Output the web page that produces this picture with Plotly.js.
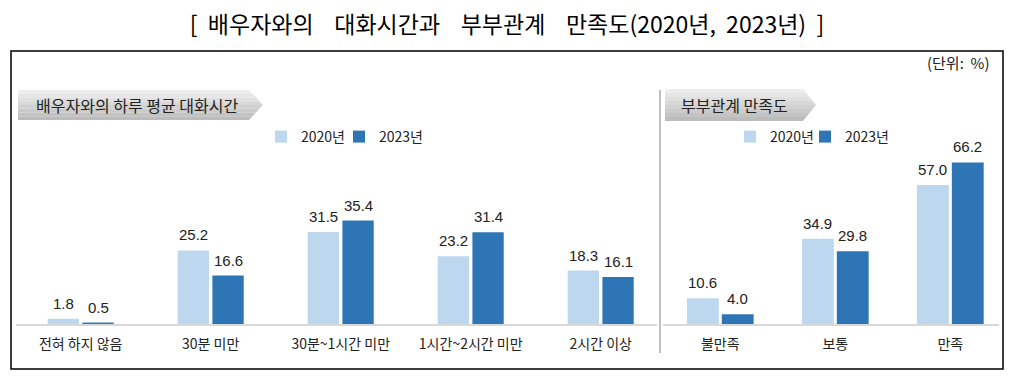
<!DOCTYPE html>
<html>
<head>
<meta charset="utf-8">
<script src="https://cdn.plot.ly/plotly-3.0.1.min.js"></script>
<style>
html,body{margin:0;padding:0;background:#fff;}
#chart{width:1014px;height:380px;}
</style>
</head>
<body>
<div id="chart"></div>
<script>
// ---- data ----
const talkCategories = ["전혀 하지 않음", "30분 미만", "30분~1시간 미만", "1시간~2시간 미만", "2시간 이상"];
const talk2020 = [1.8, 25.2, 31.5, 23.2, 18.3];
const talk2023 = [0.5, 16.6, 35.4, 31.4, 16.1];
const satCategories = ["불만족", "보통", "만족"];
const sat2020 = [10.6, 34.9, 57.0];
const sat2023 = [4.0, 29.8, 66.2];
const seriesNames = ["2020년", "2023년"];
const chartTitle = "[  배우자와의    대화시간과    부부관계    만족도(2020년,  2023년)  ]";
const leftPanelTitle = "배우자와의 하루 평균 대화시간";
const rightPanelTitle = "부부관계 만족도";
const unitText = "(단위:  %)";

// ---- layout helpers ----
const W = 1014, H = 380;
const px = x => x / W;
const py = y => 1 - y / H;
const KFONT = '"Noto Sans CJK KR", "Noto Sans", sans-serif';
const NFONT = '"Liberation Sans", Arial, sans-serif';
const C20 = '#bdd7ee', C23 = '#2e75b6';

const LW = 0.241, LOFF = [-0.254, 0.013];
const RW = 0.277, ROFF = [-0.29, 0.013];

const traces = [
  {type:'bar', name:seriesNames[0], x:talkCategories, y:talk2020, xaxis:'x', yaxis:'y',
   width:LW, offset:LOFF[0], marker:{color:C20}, legend:'legend', hoverinfo:'none'},
  {type:'bar', name:seriesNames[1], x:talkCategories, y:talk2023, xaxis:'x', yaxis:'y',
   width:LW, offset:LOFF[1], marker:{color:C23}, legend:'legend3', hoverinfo:'none'},
  {type:'bar', name:seriesNames[0], x:satCategories, y:sat2020, xaxis:'x2', yaxis:'y2',
   width:RW, offset:ROFF[0], marker:{color:C20}, legend:'legend2', hoverinfo:'none'},
  {type:'bar', name:seriesNames[1], x:satCategories, y:sat2023, xaxis:'x2', yaxis:'y2',
   width:RW, offset:ROFF[1], marker:{color:C23}, legend:'legend4', hoverinfo:'none'}
];

const annotations = [];
function addLabels(cats, vals, xref, yref, center) {
  cats.forEach((c, i) => {
    annotations.push({x: i + center, y: vals[i], xref, yref, text: vals[i].toFixed(1),
      showarrow:false, yanchor:'bottom', yshift:5,
      font:{family:NFONT, size:15, color:'#222'}});
  });
}
addLabels(talkCategories, talk2020, 'x', 'y', LOFF[0] + LW/2);
addLabels(talkCategories, talk2023, 'x', 'y', LOFF[1] + LW/2);
addLabels(satCategories, sat2020, 'x2', 'y2', ROFF[0] + RW/2);
addLabels(satCategories, sat2023, 'x2', 'y2', ROFF[1] + RW/2);

annotations.push({xref:'paper', yref:'paper', x:px(34), y:py(105), xanchor:'left', yanchor:'middle',
  text:leftPanelTitle, showarrow:false, font:{family:KFONT, size:16, color:'#222'}});
annotations.push({xref:'paper', yref:'paper', x:px(679), y:py(105), xanchor:'left', yanchor:'middle',
  text:rightPanelTitle, showarrow:false, font:{family:KFONT, size:16, color:'#222'}});
annotations.push({xref:'paper', yref:'paper', x:px(991), y:py(62), xanchor:'right', yanchor:'middle',
  text:unitText, showarrow:false, font:{family:KFONT, size:15, color:'#222'}});

// arrow label boxes with stepped gradient
const shapes = [];
function arrowBox(x0, x1, xt, y0, y1) {
  const ym = (y0 + y1) / 2, half = (y1 - y0) / 2;
  const xr = y => x1 + (xt - x1) * (1 - Math.abs(y - ym) / half);
  const cols = ['#ededed','#e6e6e6','#dfdfdf','#d8d8d8','#d1d1d1','#cacaca','#c3c3c3','#bcbcbc'];
  const n = cols.length;
  for (let k = 0; k < n; k++) {
    const a = y0 + (y1 - y0) * k / n, b = y0 + (y1 - y0) * (k + 1) / n;
    const pts = [[x0, a], [xr(a), a]];
    if (a < ym && b > ym) pts.push([xt, ym]);
    pts.push([xr(b), b], [x0, b]);
    const d = 'M' + pts.map(p => px(p[0]) + ',' + py(p[1])).join(' L') + ' Z';
    shapes.push({type:'path', xref:'paper', yref:'paper', path:d, fillcolor:cols[k],
      line:{width:0}, layer:'below'});
  }
}
arrowBox(18, 249, 263, 90, 120);
arrowBox(665, 803, 816, 89, 121);

// outer frame
shapes.push({type:'rect', xref:'paper', yref:'paper', x0:px(11), x1:px(1003), y0:py(51), y1:py(369),
  line:{color:'#000', width:1.5}, fillcolor:'rgba(0,0,0,0)'});
// separator
shapes.push({type:'line', xref:'paper', yref:'paper', x0:px(660), x1:px(660), y0:py(90), y1:py(353),
  line:{color:'#bfbfbf', width:2}});

const yDom = [py(324), py(90)];
const legendBase = {orientation:'h', yanchor:'middle', y:py(137), xanchor:'left',
  font:{family:KFONT, size:14, color:'#222'}, bgcolor:'rgba(0,0,0,0)', itemwidth:30,
  traceorder:'normal'};
const layout = {
  width: W, height: H,
  margin: {l:0, r:0, t:0, b:0},
  paper_bgcolor:'#fff', plot_bgcolor:'rgba(0,0,0,0)',
  showlegend:true,
  title: {text: chartTitle, x:0.5, xanchor:'center', y: py(25), yanchor:'middle', yref:'container',
    font:{family:KFONT, size:23, color:'#000'}},
  xaxis: {domain:[px(16), px(657)], type:'category', range:[-0.4977, 4.433], anchor:'y',
    showline:true, linecolor:'#d9d9d9', linewidth:1.5, ticks:'', showgrid:false, zeroline:false,
    ticklabelstandoff:7, tickfont:{family:KFONT, size:14, color:'#222'}, fixedrange:true},
  yaxis: {domain:yDom, range:[0, 80.1], visible:false, fixedrange:true, anchor:'x'},
  xaxis2: {domain:[px(663), px(999)], type:'category', range:[-0.498, 2.423], anchor:'y2',
    showline:true, linecolor:'#d9d9d9', linewidth:1.5, ticks:'', showgrid:false, zeroline:false,
    ticklabelstandoff:7, tickfont:{family:KFONT, size:14, color:'#222'}, fixedrange:true},
  yaxis2: {domain:yDom, range:[0, 95.9], visible:false, fixedrange:true, anchor:'x2'},
  legend: Object.assign({}, legendBase, {x:px(261)}),
  legend3: Object.assign({}, legendBase, {x:px(339)}),
  legend2: Object.assign({}, legendBase, {x:px(730)}),
  legend4: Object.assign({}, legendBase, {x:px(805)}),
  annotations, shapes
};

Plotly.newPlot('chart', traces, layout, {displayModeBar:false, staticPlot:true});
</script>
</body>
</html>
